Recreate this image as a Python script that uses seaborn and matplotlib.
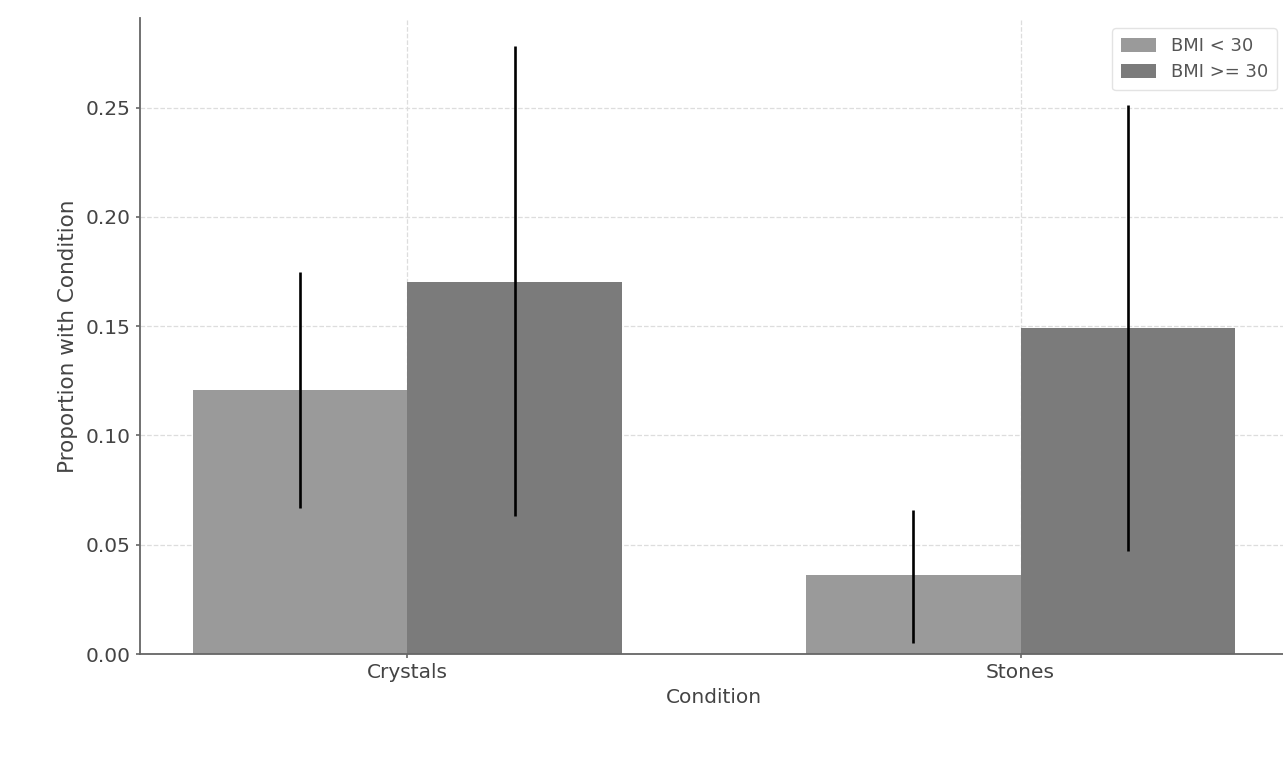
import numpy as np
import pandas as pd
import seaborn as sns
from matplotlib import pyplot as plt

# values
conditions = ["Crystals", "Stones"]
groups = ["BMI < 30", "BMI >= 30"]
props_low = [0.121, 0.036]     # BMI < 30
props_high = [0.170, 0.149]    # BMI >= 30
ci_low_lo = [0.067, 0.005]
ci_low_hi = [0.175, 0.066]
ci_high_lo = [0.063, 0.047]
ci_high_hi = [0.278, 0.251]

df = pd.DataFrame({
    "Condition": conditions * 2,
    "BMI": [groups[0]] * 2 + [groups[1]] * 2,
    "Proportion": props_low + props_high,
    "lo": ci_low_lo + ci_high_lo,
    "hi": ci_low_hi + ci_high_hi,
})

sns.set_style("whitegrid")
plt.rcParams["font.family"] = ["DejaVu Sans"]

fig = plt.figure(figsize=(12.83, 7.71), dpi=100)
ax = fig.add_axes([140 / 1283, 117 / 771, 1148 / 1283, 636 / 771])

sns.barplot(
    data=df, x="Condition", y="Proportion", hue="BMI",
    order=conditions, hue_order=groups,
    palette=["#9a9a9a", "#7b7b7b"],
    width=0.7, linewidth=0, errorbar=None, ax=ax,
)

# error bars at the bar centres, taken from the seaborn patches
for bar, (_, row) in zip(ax.patches, df.iterrows()):
    xc = bar.get_x() + bar.get_width() / 2
    ax.vlines(xc, row["lo"], row["hi"], color="black", lw=1.9, zorder=3)

ax.set_xlim(-0.436, 1.436)
ax.set_ylim(0, 0.291)
ax.set_yticks(np.arange(0, 0.26, 0.05))
ax.yaxis.set_major_formatter(plt.FormatStrFormatter("%.2f"))

ax.grid(True, color="#dddddd", linestyle="--", linewidth=0.9)
ax.set_axisbelow(True)
for side in ["top", "right"]:
    ax.spines[side].set_visible(False)
for side in ["left", "bottom"]:
    ax.spines[side].set_color("#666666")
    ax.spines[side].set_linewidth(1.3)

ax.tick_params(axis="both", colors="#666666", labelsize=14.5, length=3,
               width=1.2, labelcolor="#444444", direction="out",
               left=True, bottom=True)
ax.set_xlabel("Condition", fontsize=14.5, color="#444444", labelpad=4)
ax.set_ylabel("Proportion with Condition", fontsize=15.5, color="#444444",
              labelpad=6)

leg = ax.legend(title=None, loc="upper right", fontsize=13,
                bbox_to_anchor=(1137 / 1148, 626 / 636), borderaxespad=0,
                frameon=True, handlelength=1.95, handleheight=0.8,
                borderpad=0.5, labelspacing=0.45)
leg.get_frame().set_edgecolor("#dddddd")
for t in leg.get_texts():
    t.set_color("#555555")

plt.savefig("out.png", dpi=100)
